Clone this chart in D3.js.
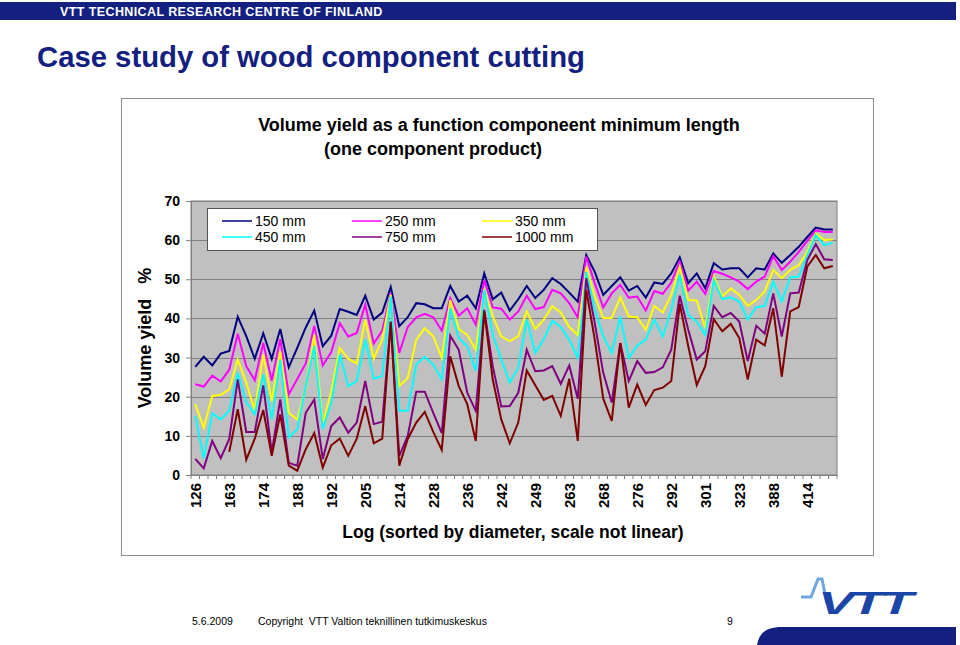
<!DOCTYPE html>
<html>
<head>
<meta charset="utf-8">
<script src="https://cdn.jsdelivr.net/npm/d3@7/dist/d3.min.js"></script>
<style>
  body { margin: 0; background: #fff; }
  svg { display: block; font-family: "Liberation Sans", Arial, sans-serif; }
</style>
</head>
<body>
<svg id="slide" width="960" height="645"></svg>
<script>
/* ---- data ---- */
const seriesNames  = ["150 mm", "250 mm", "350 mm", "450 mm", "750 mm", "1000 mm"];
const seriesColors = ["#000080", "#ff00ff", "#ffff00", "#00ffff", "#800080", "#800000"];

// every 4th log is labelled on the category axis
const tickLabels = ["126","163","174","188","192","205","214","228","236","242",
                    "249","263","268","276","292","301","323","388","414"];
const labelStep = 4;
const logCount = 76;

const yTicks = [0, 10, 20, 30, 40, 50, 60, 70];

const y150 = [27.6,30.2,28.0,31.0,31.7,40.4,35.5,29.7,36.2,29.7,37.3,27.5,32.5,37.7,42.0,32.9,35.6,42.4,41.7,
              40.9,45.8,39.7,41.5,48.0,38.0,40.3,43.9,43.6,42.6,42.6,48.3,44.3,45.8,42.6,51.5,44.9,46.6,42.0,
              44.9,48.3,45.2,47.3,50.3,48.8,46.6,44.3,56.2,51.9,46.0,48.3,50.5,47.1,48.3,45.3,49.2,48.8,51.5,
              55.6,49.0,51.5,47.7,54.1,52.5,52.8,52.8,50.5,52.8,52.5,56.6,54.2,56.2,58.3,60.8,63.2,62.7,62.7];
const y250 = [23.2,22.6,25.4,23.9,26.9,36.1,27.8,24.2,33.7,24.1,34.7,20.6,24.5,28.5,38.1,28.0,31.4,38.8,35.4,
              36.3,43.5,33.6,36.9,46.4,31.2,37.8,40.3,41.2,40.3,36.9,45.2,40.7,42.6,38.4,49.8,42.8,42.5,39.7,
              41.8,45.8,42.4,42.9,47.3,46.4,43.9,40.3,55.8,49.0,42.8,46.4,48.6,45.3,45.6,42.0,47.0,46.3,49.2,
              54.5,47.1,49.4,46.3,52.1,51.4,50.5,49.4,47.5,49.4,50.7,55.9,52.4,54.5,57.0,59.8,62.5,62.1,62.1];
const y350 = [18.1,12.1,20.2,20.5,21.9,29.5,23.6,16.6,30.8,18.9,31.6,15.9,14.2,22.3,35.8,13.0,21.4,32.5,29.7,
              28.5,39.7,29.7,34.6,46.0,22.7,24.8,34.6,37.5,35.4,29.9,44.7,37.3,35.8,32.0,47.5,40.5,35.4,34.2,
              35.4,41.8,37.3,39.7,43.1,41.5,37.8,35.8,53.2,45.6,40.1,40.1,45.4,40.5,40.3,37.1,43.2,41.5,46.0,
              53.2,44.7,44.6,37.5,50.7,45.6,47.7,46.0,43.2,44.7,46.9,52.4,50.3,52.4,53.6,57.0,61.7,60.0,60.2];
const y450 = [15.1,4.2,15.8,14.2,16.4,26.1,18.6,15.5,25.7,14.2,29.5,9.6,11.7,22.7,32.9,11.7,18.5,30.8,22.7,
              24.0,34.6,24.6,25.3,45.6,16.4,16.4,28.2,30.2,28.2,24.4,42.6,35.0,32.9,26.5,47.3,35.8,29.5,23.6,
              27.4,39.7,31.2,34.7,39.4,37.8,34.6,29.9,51.9,42.2,35.4,31.2,40.5,29.9,33.1,34.6,39.7,35.4,42.2,
              51.1,40.9,39.2,35.8,49.8,44.9,45.4,44.3,39.7,42.9,43.2,49.4,44.3,50.5,50.7,56.2,61.3,58.7,59.3];
const y750 = [4.1,1.7,8.7,4.3,9.2,24.4,11.0,11.0,22.9,5.8,19.3,3.1,2.4,15.9,19.3,4.1,12.5,14.7,10.8,
              13.4,24.0,13.0,13.6,39.2,4.9,10.0,21.3,21.3,15.9,10.7,35.6,32.0,21.0,16.4,42.2,27.8,17.5,17.6,
              21.0,32.0,26.5,26.7,27.8,23.3,28.0,19.5,50.3,38.8,26.1,18.5,33.7,24.0,29.1,26.1,26.3,27.5,32.0,
              45.8,37.1,29.5,31.6,43.2,40.3,41.4,39.2,29.1,38.1,36.1,46.4,35.4,46.4,46.6,54.9,59.0,55.1,54.9];
const y1000 = [null,null,null,null,5.9,16.8,3.9,9.3,16.6,4.9,15.5,2.4,1.1,6.6,10.7,1.9,7.6,9.3,4.9,
              9.3,17.6,8.1,9.3,39.0,2.4,9.2,13.4,16.1,11.0,6.4,30.3,22.7,18.1,8.7,41.8,24.4,14.2,8.1,
              13.4,26.7,22.9,19.2,20.2,15.1,24.6,8.7,47.3,34.6,19.5,13.8,33.7,17.2,23.1,17.9,21.7,22.3,24.0,
              43.7,32.9,23.0,27.8,39.8,36.7,38.6,35.0,24.4,34.6,33.1,42.6,25.1,41.8,42.9,53.2,56.2,52.8,53.4];

const seriesValues = [y150, y250, y350, y450, y750, y1000];

/* ---- slide frame ---- */
const svg = d3.select("#slide");
const NAVY = "#13207f";

svg.append("rect").attr("x", 0).attr("y", 2).attr("width", 956).attr("height", 18).attr("fill", NAVY);
svg.append("text").attr("x", 60).attr("y", 16)
  .attr("font-size", 12.5).attr("font-weight", "bold").attr("fill", "#fff")
  .style("letter-spacing", "0.4px")
  .text("VTT TECHNICAL RESEARCH CENTRE OF FINLAND");

svg.append("text").attr("x", 37).attr("y", 67)
  .attr("font-family", "'Liberation Sans Narrow', 'Arial Narrow', 'Liberation Sans', Arial, sans-serif")
  .attr("font-size", 30).attr("font-weight", "bold").attr("fill", NAVY)
  .attr("textLength", 548).attr("lengthAdjust", "spacingAndGlyphs")
  .text("Case study of wood component cutting");

/* ---- chart box ---- */
svg.append("rect").attr("x", 121.5).attr("y", 98.5).attr("width", 752).attr("height", 457)
  .attr("fill", "#fff").attr("stroke", "#8c8c8c");

svg.append("text").attr("x", 499).attr("y", 131).attr("text-anchor", "middle")
  .attr("font-size", 18).attr("font-weight", "bold").attr("fill", "#000")
  .text("Volume yield as a function componeent minimum length");
svg.append("text").attr("x", 433).attr("y", 155).attr("text-anchor", "middle")
  .attr("font-size", 18).attr("font-weight", "bold").attr("fill", "#000")
  .text("(one component product)");

const plot = { left: 191, right: 837, top: 201, bottom: 475 };

const x = d3.scaleBand()
  .domain(d3.range(logCount))
  .range([plot.left, plot.right])
  .padding(0);
const cx = i => x(i) + x.bandwidth() / 2;

const y = d3.scaleLinear().domain([0, 70]).range([plot.bottom, plot.top]);

// plot background
svg.append("rect")
  .attr("x", plot.left).attr("y", plot.top)
  .attr("width", plot.right - plot.left).attr("height", plot.bottom - plot.top)
  .attr("fill", "#c0c0c0").attr("stroke", "#808080");

// gridlines
svg.append("g").selectAll("line")
  .data(yTicks.filter(d => d > 0))
  .enter().append("line")
  .attr("x1", plot.left).attr("x2", plot.right)
  .attr("y1", d => Math.round(y(d)) + 0.5).attr("y2", d => Math.round(y(d)) + 0.5)
  .attr("stroke", "#808080").attr("stroke-width", 1);

// y axis
const yAxis = svg.append("g")
  .attr("transform", `translate(${plot.left},0)`)
  .call(d3.axisLeft(y).tickValues(yTicks).tickSize(5).tickPadding(6).tickSizeOuter(0));
yAxis.select(".domain").attr("stroke", "#808080");
yAxis.selectAll(".tick line").attr("stroke", "#808080");
yAxis.selectAll("text")
  .attr("font-family", "'Liberation Sans', Arial, sans-serif")
  .attr("font-size", 14).attr("font-weight", "bold").attr("fill", "#000");

svg.append("text")
  .attr("transform", "translate(151,338) rotate(-90)")
  .attr("text-anchor", "middle")
  .attr("font-size", 18).attr("font-weight", "bold")
  .style("white-space", "pre")
  .text("Volume yield   %");

// x axis: small ticks at every category boundary, labels every 4th log
const xg = svg.append("g");
xg.append("line")
  .attr("x1", plot.left).attr("x2", plot.right)
  .attr("y1", plot.bottom + 0.5).attr("y2", plot.bottom + 0.5)
  .attr("stroke", "#808080");
xg.selectAll("line.tk")
  .data(d3.range(logCount + 1))
  .enter().append("line").attr("class", "tk")
  .attr("x1", i => (i < logCount ? x(i) : plot.right))
  .attr("x2", i => (i < logCount ? x(i) : plot.right))
  .attr("y1", plot.bottom).attr("y2", plot.bottom + 4)
  .attr("stroke", "#808080");
xg.selectAll("text")
  .data(tickLabels)
  .enter().append("text")
  .attr("transform", (d, k) => `translate(${cx(k * labelStep)},${plot.bottom + 8}) rotate(-90)`)
  .attr("text-anchor", "end")
  .attr("dy", "0.35em")
  .attr("font-size", 15).attr("font-weight", "bold")
  .text(d => d);

svg.append("text").attr("x", 513).attr("y", 538).attr("text-anchor", "middle")
  .attr("font-size", 17.5).attr("font-weight", "bold")
  .text("Log (sorted by diameter, scale not linear)");

/* ---- series ---- */
const line = d3.line()
  .defined(d => d.v != null)
  .x(d => cx(d.i))
  .y(d => y(d.v));

svg.append("g").selectAll("path")
  .data(seriesValues.map((vals, s) => ({ s, pts: vals.map((v, i) => ({ i, v })) })))
  .enter().append("path")
  .attr("d", d => line(d.pts))
  .attr("fill", "none")
  .attr("stroke", d => seriesColors[d.s])
  .attr("stroke-width", 2)
  .attr("stroke-linejoin", "miter");

/* ---- legend ---- */
const lg = svg.append("g");
lg.append("rect").attr("x", 207.5).attr("y", 208.5).attr("width", 390).attr("height", 42)
  .attr("fill", "#fff").attr("stroke", "#555");
const colX = [222, 352, 482];
const rowY = [221, 237];
seriesNames.forEach((name, s) => {
  const c = s % 3, r = Math.floor(s / 3);
  lg.append("line")
    .attr("x1", colX[c]).attr("x2", colX[c] + 30)
    .attr("y1", rowY[r]).attr("y2", rowY[r])
    .attr("stroke", seriesColors[s]).attr("stroke-width", 1.5);
  lg.append("text")
    .attr("x", colX[c] + 33).attr("y", rowY[r] + 5)
    .attr("font-size", 14)
    .text(name);
});

/* ---- footer ---- */
const foot = svg.append("g")
  .attr("font-family", "'Liberation Sans Narrow', 'Arial Narrow', 'Liberation Sans', Arial, sans-serif")
  .attr("font-size", 10.5).attr("fill", "#000");
foot.append("text").attr("x", 192).attr("y", 625).text("5.6.2009");
foot.append("text").attr("x", 258).attr("y", 625).style("white-space", "pre")
  .text("Copyright  VTT Valtion teknillinen tutkimuskeskus");
foot.append("text").attr("x", 727).attr("y", 625).text("9");

// VTT logo
svg.append("path")
  .attr("d", "M757,645 C759,633 766,627 782,627 L956,627 L956,645 Z")
  .attr("fill", NAVY);
svg.append("path")
  .attr("d", "M801,597 L811,597 L818,579 L822,579 L827,604")
  .attr("fill", "none").attr("stroke", "#6ea6de").attr("stroke-width", 3);
svg.append("text").attr("x", 818).attr("y", 614)
  .attr("font-size", 31).attr("font-weight", "bold").attr("font-style", "italic")
  .attr("fill", "#1c45a8").style("letter-spacing", "-2px")
  .attr("textLength", 92).attr("lengthAdjust", "spacingAndGlyphs")
  .text("VTT");
</script>
</body>
</html>
